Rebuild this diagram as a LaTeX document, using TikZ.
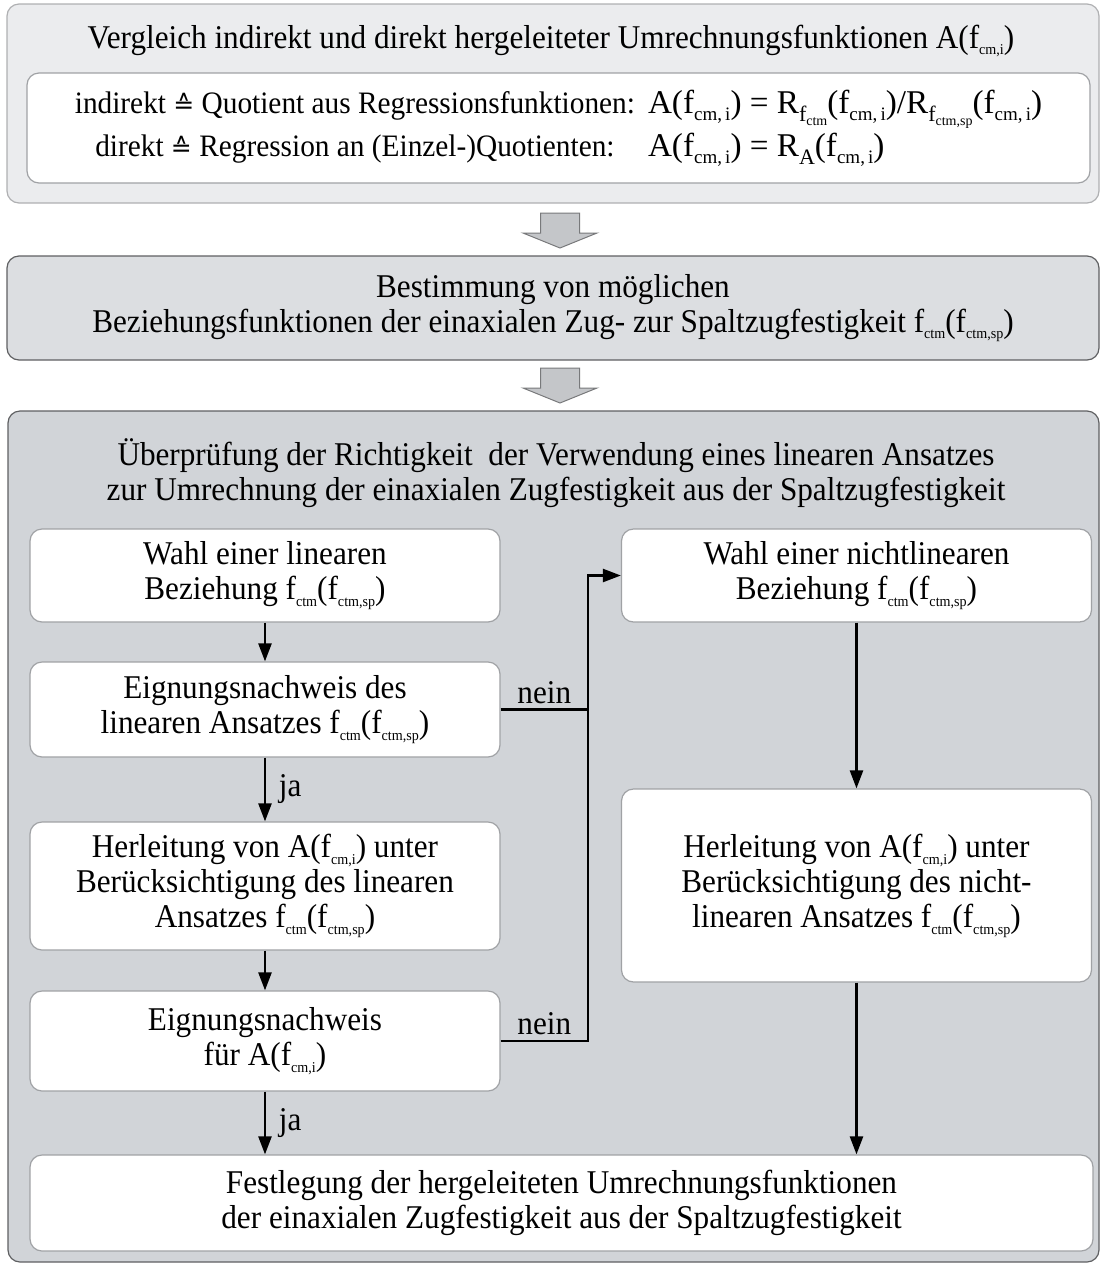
\documentclass[tikz,border=0pt]{standalone}
\usepackage{fontspec}
\setmainfont{Liberation Serif}[FakeStretch=0.94]
\newfontfamily\formfont{Liberation Serif}
\newfontfamily\symfont{DejaVu Sans}
\usetikzlibrary{arrows.meta,positioning}
\definecolor{panelA}{RGB}{235,236,238}
\definecolor{panelB}{RGB}{220,222,225}
\definecolor{panelC}{RGB}{209,212,216}
\definecolor{rimlight}{RGB}{175,176,178}
\definecolor{rimdark}{RGB}{95,96,98}
\definecolor{boxrim}{RGB}{160,162,165}
\definecolor{blockfill}{RGB}{196,198,201}
\definecolor{blockrim}{RGB}{120,121,123}

% small lowered indices
\newcommand{\idx}[1]{\raisebox{-0.45ex}{\fontsize{7.5}{7.5}\selectfont #1}}
\newcommand{\fcmi}{f\idx{cm,i}}
\newcommand{\fctm}{f\idx{ctm}}
\newcommand{\fctmsp}{f\idx{ctm,sp}}
% indices inside the two formulas
\newcommand{\fidx}[1]{\raisebox{-0.45ex}{\fontsize{9.5}{9.5}\selectfont #1}}
\newcommand{\fcm}{f\fidx{cm,\,i}}
\newcommand{\Rsub}[1]{R\raisebox{-0.5ex}{\fontsize{11}{11}\selectfont f\raisebox{-0.4ex}{\fontsize{7}{7}\selectfont #1}}}
\newcommand{\entspr}{{\symfont\fontsize{12.5}{12.5}\selectfont ≙}}

\begin{document}
\begin{tikzpicture}[
  x=0.5pt, y=-0.5pt,
  every node/.style={font=\fontsize{16.6}{17.5}\selectfont, align=center},
  panel/.style={draw, rounded corners=6pt, line width=0.6pt, inner sep=0pt},
  box/.style={draw=boxrim, fill=white, rounded corners=6pt, line width=0.6pt,
    minimum width=235pt, inner sep=0pt},
  arrow/.style={-{Triangle[length=9pt,width=6.5pt]}, line width=1.2pt},
  line/.style={line width=1.2pt},
  pics/blockarrow/.style={code={
    \draw[fill=blockfill, draw=blockrim, line width=0.5pt]
      (-19.5,0) -- (19.5,0) -- (19.5,20) -- (37,20) -- (0,35)
      -- (-37,20) -- (-19.5,20) -- cycle;}}
]
\useasboundingbox (0,0) rectangle (1102,1265);

% three stages
\node[panel, draw=rimlight, fill=panelA, minimum width=546pt, minimum height=99.5pt]
  (stageA) at (553,103.5) {};
\node[panel, draw=rimdark, fill=panelB, minimum width=546pt, minimum height=52pt]
  (stageB) at (553,308) {};
\node[panel, draw=rimdark, fill=panelC, minimum width=545.5pt, minimum height=425.5pt]
  (stageC) at (553.5,836.5) {};

\pic at (560,213) {blockarrow};
\pic at (560,368) {blockarrow};

\node (titleA) at (551,41) {Vergleich indirekt und direkt hergeleiteter Umrechnungsfunktionen A(\fcmi)};
\node[box, minimum width=531.5pt, minimum height=55pt] (defs) at (558.5,128)
  {\begin{tabular}{@{}c@{\hspace{6.5pt}}l@{}}
    \fontsize{15.6}{17.5}\selectfont indirekt \entspr{} Quotient aus Regressionsfunktionen: &
      \formfont A(\fcm)\ =\ \Rsub{ctm}(\fcm)/\Rsub{ctm,sp}(\fcm)\\[4pt]
    \fontsize{15.6}{17.5}\selectfont direkt \entspr{} Regression an (Einzel-)Quotienten: &
      \formfont A(\fcm)\ =\ R\raisebox{-0.5ex}{\fontsize{11}{11}\selectfont A}(\fcm)
  \end{tabular}};

\node (titleB) at (stageB) {Bestimmung von möglichen\\Beziehungsfunktionen der einaxialen Zug- zur Spaltzugfestigkeit \fctm(\fctmsp)};

\node (titleC) at (556,473) {Überprüfung der Richtigkeit\ \ der Verwendung eines linearen Ansatzes\\zur Umrechnung der einaxialen Zugfestigkeit aus der Spaltzugfestigkeit};

% linear branch
\node[box, minimum height=46.5pt] (lin) at (265,575.5) {Wahl einer linearen\\Beziehung \fctm(\fctmsp)};
\node[box, minimum height=47.5pt] (linok) at (265,709.5) {Eignungsnachweis des\\linearen Ansatzes \fctm(\fctmsp)};
\node[box, minimum height=64pt] (linA) at (265,886) {Herleitung von A(\fcmi) unter\\Berücksichtigung des linearen\\Ansatzes \fctm(\fctmsp)};
\node[box, minimum height=50pt] (linAok) at (265,1041) {Eignungsnachweis\\für A(\fcmi)};

% nonlinear branch
\node[box, minimum height=46.5pt] (nlin) at (856.5,575.5) {Wahl einer nichtlinearen\\Beziehung \fctm(\fctmsp)};
\node[box, minimum height=96.5pt] (nlinA) at (856.5,885.5) {Herleitung von A(\fcmi) unter\\Berücksichtigung des nicht-\\linearen Ansatzes \fctm(\fctmsp)};

\node[box, minimum width=531.5pt, minimum height=48pt] (final) at (561.5,1203) {Festlegung der hergeleiteten Umrechnungsfunktionen\\der einaxialen Zugfestigkeit aus der Spaltzugfestigkeit};

\coordinate (merge) at (588,0);

\draw[arrow] (lin) -- (linok);
\draw[arrow] (linok) -- node[right=3pt]{ja} (linA);
\draw[arrow] (linA) -- (linAok);
\draw[arrow] (linAok.south) -- node[right=3pt]{ja} (linAok.south |- final.north);
\draw[arrow] (nlin) -- (nlinA);
\draw[arrow] (nlinA.south) -- (nlinA.south |- final.north);
\draw[line] (linok.east) -- node[above=-1pt]{nein} (merge |- linok.east);
\draw[arrow] (linAok.east) -- node[above=-1pt]{nein} (merge |- linAok.east)
  -- (merge |- nlin.west) -- (nlin.west);
\end{tikzpicture}
\end{document}
